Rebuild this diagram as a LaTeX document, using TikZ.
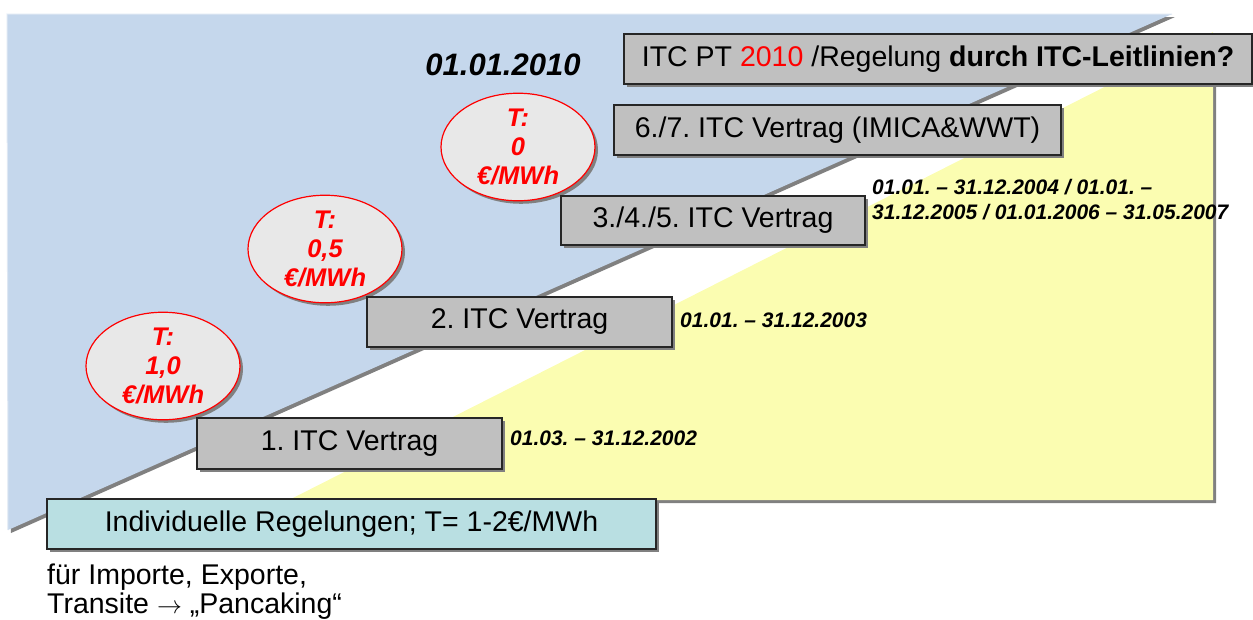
\documentclass[tikz,border=0pt]{standalone}
\usepackage{fontspec}
\setmainfont{Liberation Sans}
\usetikzlibrary{shapes.geometric,shadows,positioning}
\definecolor{bluebg}{RGB}{197,215,236}
\definecolor{bluerim}{RGB}{222,231,243}
\definecolor{yellowbg}{RGB}{251,253,177}
\definecolor{boxgray}{RGB}{192,192,192}
\definecolor{tealbox}{RGB}{185,223,226}
\definecolor{ellgray}{RGB}{232,232,232}
\definecolor{shadowgray}{RGB}{128,128,128}
\frenchspacing
\tikzset{
  shd/.style={drop shadow={shadow xshift=3pt,shadow yshift=-3pt,fill=shadowgray,opacity=1}},
  itcbox/.style={rectangle, draw=black!85, line width=1.2pt, fill=boxgray, shd,
    inner sep=0pt, font=\fontsize{28.5}{30}\selectfont},
  tarif/.style={ellipse, draw=red, line width=1.2pt, fill=ellgray, shd,
    minimum width=154pt, minimum height=106pt, inner sep=0pt, align=center,
    text=red, font=\fontsize{25.5}{29}\selectfont\bfseries\itshape},
  datum/.style={anchor=west, inner sep=0pt, align=left,
    font=\fontsize{21}{25}\selectfont\bfseries\itshape},
  plain/.style={anchor=base west, inner sep=0pt, font=\fontsize{28.5}{30}\selectfont}
}
\begin{document}
\begin{tikzpicture}[x=1pt,y=-1pt]
    \useasboundingbox (0,0) rectangle (1253,619);
    \pgfmathsetmacro{\boxh}{50}

    % background wedges
    \coordinate (TL) at (7,14);
    \coordinate (TR) at (1172,14);
    \coordinate (BL) at (8,530);
    \fill[bluebg, shd] (TL) -- (TR) -- (BL) -- cycle;
    \draw[bluerim, line width=1pt] (BL) -- (TL) -- (TR);
    \coordinate (YT) at (1213,32);
    \coordinate (YB) at (1213,500);
    \coordinate (YL) at (289,500);
    \fill[yellowbg, shd] (YT) -- (YB) -- (YL) -- cycle;

    % tariffs
    \node[tarif] (t1) at (163,366) {T:\\1,0\\€/MWh};
    \node[tarif] (t2) at (325,249) {T:\\0,5\\€/MWh};
    \node[tarif] (t3) at (518,147) {T:\\0\\€/MWh};

    % contract steps
    \node[itcbox, fill=tealbox, minimum width=609pt, minimum height=\boxh pt] (ind) at (351.5,524)
      {Individuelle Regelungen; T= 1-2€/MWh};
    \node[itcbox, minimum width=305pt, minimum height=51pt] (v1) at (349.5,443.5) {1. ITC Vertrag};
    \node[itcbox, minimum width=305pt, minimum height=\boxh pt] (v2) at (519.5,322) {2. ITC Vertrag};
    \node[itcbox, minimum width=304pt, minimum height=49pt] (v3) at (713,220.5) {3./4./5. ITC Vertrag};
    \node[itcbox, minimum width=447pt, minimum height=\boxh pt] (v6) at (837.5,130)
      {6./7. ITC Vertrag (IMICA\&WWT)};
    \node[itcbox, minimum width=628pt, minimum height=\boxh pt] (pt) at (938,59)
      {ITC PT \textcolor{red}{2010} /Regelung \textbf{durch ITC-Leitlinien?}};

    % dates
    \node[datum] (d1) at (510,438) {01.03. – 31.12.2002};
    \node[datum] (d2) at (680,320) {01.01. – 31.12.2003};
    \node[datum] (d3) at (872,200) {01.01. – 31.12.2004 / 01.01. –\\31.12.2005 / 01.01.2006 – 31.05.2007};
    \node[inner sep=0pt, font=\fontsize{31}{34}\selectfont\bfseries\itshape] (d10) at (503,65) {01.01.2010};

    \node[plain] (n1) at (47,584) {für Importe, Exporte,};
    \node[plain] (n2) at (47,613) {Transite $\rightarrow$ „Pancaking“};
\end{tikzpicture}
\end{document}
